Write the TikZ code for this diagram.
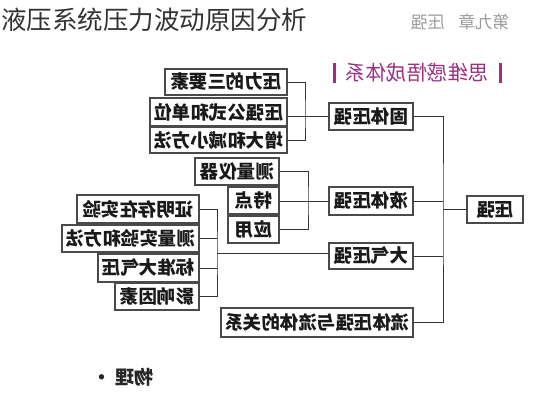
\documentclass[tikz,border=0pt]{standalone}
\usepackage{fontspec}
\newfontfamily\cjk{Noto Sans CJK SC}
\definecolor{boxline}{HTML}{4A4A4A}
\definecolor{conn}{HTML}{333333}
\definecolor{hdr}{HTML}{9C2F82}
\definecolor{chap}{HTML}{9A9A9A}
\begin{document}
\begin{tikzpicture}[x=1pt,y=-1pt,
  mbox/.style={draw=boxline,line width=1.1pt,fill=white,inner sep=0pt,
    minimum height=27pt,font=\cjk\bfseries\fontsize{18.5}{18.5}\selectfont,text=black!90},
  conn/.style={draw=conn,line width=0.9pt}]
\useasboundingbox (0,0) rectangle (533,400);
% title
\node[anchor=west,font=\cjk\fontsize{25.5}{26}\selectfont,text=black!80,inner sep=0pt] (title) at (1,20) {液压系统压力波动原因分析};
\node[font=\cjk\fontsize{17}{17}\selectfont,text=chap,inner sep=0pt] (chap) at (460,22) {\reflectbox{第九章\hspace{0.8em}压强}};
% header
\node[font=\cjk\fontsize{20.5}{21}\selectfont,text=hdr,inner sep=0pt] (hdrtext) at (417,73) {\reflectbox{思维感悟成体系}};
\fill[hdr] (332.5,63) rectangle (336,83);
\fill[hdr] (498.5,63) rectangle (502,83);
% boxes
\node[mbox,minimum width=122pt,minimum height=26pt] (a1) at (226,82) {\reflectbox{压力的三要素}};
\node[mbox,minimum width=137pt,minimum height=28pt] (a2) at (218.5,112) {\reflectbox{压强公式和单位}};
\node[mbox,minimum width=137pt,minimum height=26pt] (a3) at (218.5,140) {\reflectbox{增大和减小方法}};
\node[mbox,minimum width=84pt] (g) at (371,116.5) {\reflectbox{固体压强}};
\node[mbox,minimum width=84pt] (b1) at (237,171.5) {\reflectbox{测量仪器}};
\node[mbox,minimum width=51pt] (b2) at (253.5,200.5) {\reflectbox{特点}};
\node[mbox,minimum width=51pt] (b3) at (253.5,229.5) {\reflectbox{应用}};
\node[mbox,minimum width=84pt,minimum height=28pt] (l) at (371,201) {\reflectbox{液体压强}};
\node[mbox,minimum width=122pt,minimum height=28pt] (c1) at (138,209) {\reflectbox{证明存在实验}};
\node[mbox,minimum width=137pt] (c2) at (130.5,238.5) {\reflectbox{测量实验和方法}};
\node[mbox,minimum width=101pt,minimum height=28pt] (c3) at (148.5,268) {\reflectbox{标准大气压}};
\node[mbox,minimum width=84pt] (c4) at (157,296.5) {\reflectbox{影响因素}};
\node[mbox,minimum width=84pt,minimum height=26pt] (d) at (371,256) {\reflectbox{大气压强}};
\node[mbox,minimum width=192pt,minimum height=29pt] (e) at (317,322.5) {\reflectbox{流体压强与流体的关系}};
\node[mbox,minimum width=56pt] (r) at (495,209.5) {\reflectbox{压强}};
% junctions
\coordinate (ja) at (305,116.5);
\coordinate (jb) at (308,201);
\coordinate (jc) at (217,253);
\coordinate (jm) at (443,209.5);
% connectors
\draw[conn] (a1.east) -| (ja) |- (a3.east);
\draw[conn] (g.west) -- (g.west -| a2.east);
\draw[conn] (b1.east) -| (jb) |- (b3.east);
\draw[conn] (l.west) -- (l.west -| b2.east);
\draw[conn] (c1.east) -| (jc) |- (c4.east);
\draw[conn] (c2.east) -- (c2.east -| jc);
\draw[conn] (c3.east) -- (c3.east -| jc);
\draw[conn] (jc) -- (jc -| d.west);
\draw[conn] (g.east) -| (jm) |- (e.east);
\draw[conn] (l.east) -- (l.east -| jm);
\draw[conn] (d.east) -- (d.east -| jm);
\draw[conn] (r.west) -- (r.west -| jm);
% bottom label
\node[font=\cjk\bfseries\fontsize{19}{19}\selectfont,text=black!85,inner sep=0pt] (phys) at (123,377) {\reflectbox{物理\hspace{0.2em}•}};
\end{tikzpicture}
\end{document}
